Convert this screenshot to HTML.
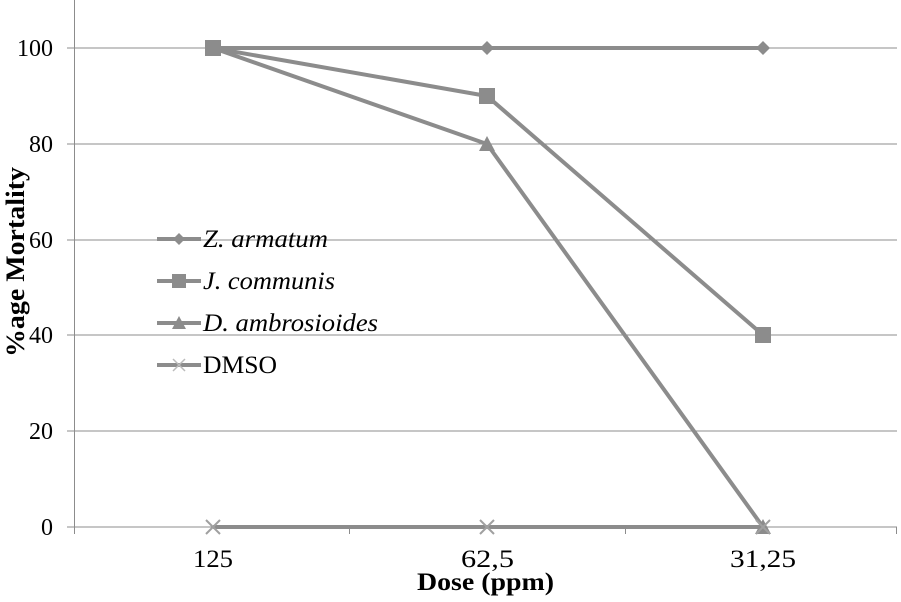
<!DOCTYPE html><html><head><style>body{margin:0;background:#fff}</style></head><body>
<svg width="901" height="597" xmlns="http://www.w3.org/2000/svg" font-family="Liberation Serif, serif">
<g stroke="#8c8c8c" stroke-width="1">
<line x1="67" y1="48" x2="897" y2="48"/><line x1="67" y1="144" x2="897" y2="144"/><line x1="67" y1="240" x2="897" y2="240"/><line x1="67" y1="335" x2="897" y2="335"/><line x1="67" y1="431" x2="897" y2="431"/><line x1="67" y1="527" x2="897" y2="527"/>
<line x1="74.5" y1="0" x2="74.5" y2="534"/>
<line x1="349.5" y1="527" x2="349.5" y2="534"/><line x1="625.5" y1="527" x2="625.5" y2="534"/><line x1="896.5" y1="527" x2="896.5" y2="534"/>
</g>
<g font-size="24" fill="#000" text-anchor="end">
<text x="53" y="56">100</text><text x="53" y="152">80</text><text x="53" y="248">60</text><text x="53" y="343">40</text><text x="53" y="439">20</text><text x="53" y="535">0</text>
</g>
<g font-size="25"><text x="193" y="567" textLength="40" lengthAdjust="spacingAndGlyphs">125</text><text x="461" y="567" textLength="53" lengthAdjust="spacingAndGlyphs">62,5</text><text x="730" y="567" textLength="66" lengthAdjust="spacingAndGlyphs">31,25</text>
<text x="417" y="590" font-weight="bold" textLength="137" lengthAdjust="spacingAndGlyphs">Dose (ppm)</text></g>
<text transform="translate(24,357) rotate(-90)" font-size="26" font-weight="bold" textLength="190" lengthAdjust="spacingAndGlyphs">%age Mortality</text>
<g stroke="#8c8c8c" stroke-width="4" fill="none">
<polyline points="213,48 487,48 763,48"/>
<polyline points="213,48 487,96 763,335"/>
<polyline points="213,48 487,144 763,527"/>
<polyline points="213,527 487,527 763,527"/>
</g>
<g fill="#8c8c8c">
<path d="M487,41 494,48 487,55 480,48Z"/><path d="M763,41 770,48 763,55 756,48Z"/>
<rect x="205" y="40" width="16" height="16"/><rect x="479" y="88" width="16" height="16"/><rect x="755" y="327" width="16" height="16"/>
<path d="M487,136 495,151 479,151Z"/><path d="M763,519 771,534 755,534Z"/>
</g>
<g stroke="#a0a0a0" stroke-width="2"><path d="M206,520 220,534M220,520 206,534M480,520 494,534M494,520 480,534M756,520 770,534M770,520 756,534"/></g>
<g stroke="#8c8c8c" stroke-width="4"><line x1="157" y1="239" x2="201" y2="239"/><line x1="157" y1="281" x2="201" y2="281"/><line x1="157" y1="323" x2="201" y2="323"/><line x1="157" y1="365" x2="201" y2="365"/></g>
<g fill="#8c8c8c"><path d="M179,233 185,239 179,245 173,239Z"/><rect x="172" y="274" width="14" height="14"/><path d="M179,316 186,329 172,329Z"/></g>
<path d="M173,359 185,371M185,359 173,371" stroke="#bbb" stroke-width="1.5"/>
<g font-size="25"><text x="203" y="247" font-style="italic" textLength="125" lengthAdjust="spacingAndGlyphs">Z. armatum</text><text x="203" y="289" font-style="italic" textLength="132" lengthAdjust="spacingAndGlyphs">J. communis</text><text x="203" y="331" font-style="italic" textLength="175" lengthAdjust="spacingAndGlyphs">D. ambrosioides</text><text x="203" y="373" textLength="74" lengthAdjust="spacingAndGlyphs">DMSO</text></g>
</svg></body></html>
